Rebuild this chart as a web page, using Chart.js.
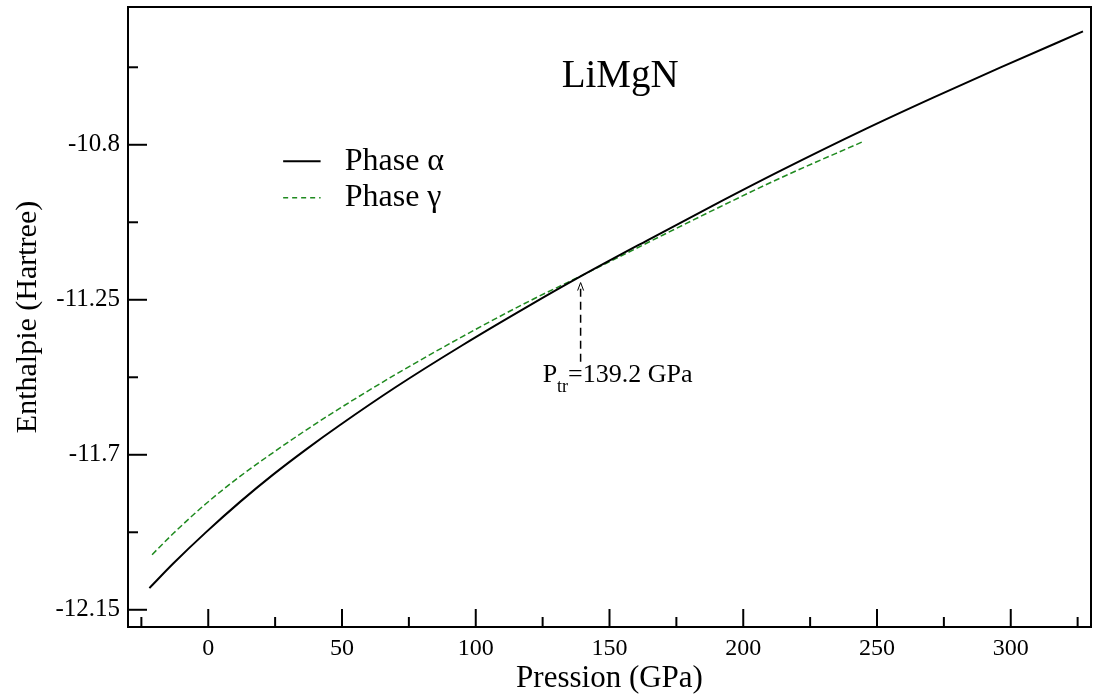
<!DOCTYPE html>
<html>
<head>
<meta charset="utf-8">
<script src="https://cdn.jsdelivr.net/npm/chart.js@4.4.0/dist/chart.umd.min.js"></script>
<style>
  html, body { margin: 0; padding: 0; background: #fff; }
</style>
</head>
<body>
<canvas id="myChart" width="1094" height="698"></canvas>
<script>
// Données (pression en GPa, enthalpie en Hartree)
const pressionAlpha = [-22, -13, -1, 12, 24, 37, 49, 70, 95, 120, 139, 164, 189, 214, 246, 271, 296, 327];
const enthalpieAlpha = [-12.087, -12.015, -11.926, -11.836, -11.759, -11.682, -11.615, -11.504, -11.382, -11.267, -11.183, -11.078, -10.975, -10.875, -10.753, -10.663, -10.576, -10.471];

const pressionGamma = [-21, -13, -1, 12, 24, 37, 49, 70, 95, 120, 139, 170, 189, 214, 245];
const enthalpieGamma = [-11.990, -11.928, -11.843, -11.762, -11.695, -11.626, -11.566, -11.467, -11.357, -11.254, -11.182, -11.062, -10.989, -10.896, -10.790];

// Graduations
const xTicks = [0, 50, 100, 150, 200, 250, 300];
const xMinorTicks = [-25, 25, 75, 125, 175, 225, 275, 325];
const yTicks = [-12.15, -11.7, -11.25, -10.8];
const yTickLabels = ['-12.15', '-11.7', '-11.25', '-10.8'];
const yMinorTicks = [-11.925, -11.475, -11.025, -10.575];

const pTransition = 139.2;
const serif = "'Liberation Serif', 'Times New Roman', serif";

const ctx = document.getElementById('myChart').getContext('2d');

// Cadre, graduations intérieures, titre, légende et annotation
const cadre = {
    id: 'cadre',
    afterDraw(chart) {
        const { ctx, chartArea: a, scales: { x, y } } = chart;
        ctx.save();
        ctx.strokeStyle = '#000';
        ctx.lineWidth = 2;
        ctx.strokeRect(a.left, a.top, a.right - a.left, a.bottom - a.top);

        // graduations vers l'intérieur
        const tickX = (vals, len) => vals.forEach(v => {
            const px = x.getPixelForValue(v);
            ctx.beginPath(); ctx.moveTo(px, a.bottom); ctx.lineTo(px, a.bottom - len); ctx.stroke();
        });
        const tickY = (vals, len) => vals.forEach(v => {
            const py = y.getPixelForValue(v);
            ctx.beginPath(); ctx.moveTo(a.left, py); ctx.lineTo(a.left + len, py); ctx.stroke();
        });
        tickX(xTicks, 18); tickX(xMinorTicks, 10);
        tickY(yTicks, 19); tickY(yMinorTicks, 10);

        // titre
        ctx.fillStyle = '#000';
        ctx.font = '39px ' + serif;
        ctx.textAlign = 'center';
        ctx.textBaseline = 'middle';
        ctx.fillText('LiMgN', x.getPixelForValue(154), y.getPixelForValue(-10.602));

        // légende
        ctx.textAlign = 'left';
        ctx.font = '32px ' + serif;
        const lx0 = x.getPixelForValue(28), lx1 = x.getPixelForValue(42), tx = x.getPixelForValue(51);
        const ly1 = y.getPixelForValue(-10.848), ly2 = y.getPixelForValue(-10.954);
        ctx.lineWidth = 2;
        ctx.strokeStyle = '#000';
        ctx.beginPath(); ctx.moveTo(lx0, ly1); ctx.lineTo(lx1, ly1); ctx.stroke();
        ctx.fillText('Phase α', tx, ly1);
        ctx.strokeStyle = '#1f8a1f';
        ctx.lineWidth = 1.5;
        ctx.setLineDash([5, 4]);
        ctx.beginPath(); ctx.moveTo(lx0, ly2); ctx.lineTo(lx1, ly2); ctx.stroke();
        ctx.setLineDash([]);
        ctx.fillText('Phase γ', tx, ly2);

        // flèche de transition
        const ax = x.getPixelForValue(pTransition);
        const aTop = y.getPixelForValue(-11.2), aBot = y.getPixelForValue(-11.43);
        ctx.strokeStyle = '#000';
        ctx.lineWidth = 1.5;
        ctx.setLineDash([8, 5]);
        ctx.beginPath(); ctx.moveTo(ax, aBot); ctx.lineTo(ax, aTop + 2); ctx.stroke();
        ctx.setLineDash([]);
        ctx.lineWidth = 1;
        ctx.beginPath(); ctx.moveTo(ax - 3, aTop + 8); ctx.lineTo(ax, aTop); ctx.lineTo(ax + 3, aTop + 8); ctx.stroke();

        // texte P_tr
        ctx.textBaseline = 'alphabetic';
        let px = x.getPixelForValue(125);
        const base = y.getPixelForValue(-11.49);
        ctx.font = '26px ' + serif;
        ctx.fillText('P', px, base);
        px += ctx.measureText('P').width;
        ctx.font = '18px ' + serif;
        ctx.fillText('tr', px, base + 10);
        px += ctx.measureText('tr').width;
        ctx.font = '26px ' + serif;
        ctx.fillText('=139.2 GPa', px, base);
        ctx.restore();
    }
};

new Chart(ctx, {
    type: 'line',
    data: {
        datasets: [{
            label: 'Phase α',
            data: pressionAlpha.map((p, i) => ({ x: p, y: enthalpieAlpha[i] })),
            borderColor: '#000',
            borderWidth: 2,
            pointRadius: 0,
            cubicInterpolationMode: 'monotone',
            fill: false
        }, {
            label: 'Phase γ',
            data: pressionGamma.map((p, i) => ({ x: p, y: enthalpieGamma[i] })),
            borderColor: '#1f8a1f',
            borderWidth: 1.5,
            borderDash: [6, 3],
            pointRadius: 0,
            cubicInterpolationMode: 'monotone',
            fill: false
        }]
    },
    options: {
        responsive: false,
        animation: false,
        layout: { padding: { top: 7, right: 3, bottom: 0, left: 0 } },
        plugins: {
            legend: { display: false },
            tooltip: { enabled: false },
            title: { display: false }
        },
        scales: {
            x: {
                type: 'linear',
                min: -30,
                max: 330,
                grid: { display: false, drawTicks: false },
                border: { display: false },
                afterBuildTicks: s => { s.ticks = xTicks.map(v => ({ value: v })); },
                afterFit: s => { s.height = 71; s.paddingLeft = 0; s.paddingRight = 0; },
                ticks: {
                    color: '#000',
                    padding: 7,
                    maxRotation: 0,
                    autoSkip: false,
                    font: { family: serif, size: 24 },
                    callback: v => String(v)
                },
                title: {
                    display: true,
                    text: 'Pression (GPa)',
                    color: '#000',
                    font: { family: serif, size: 31 },
                    padding: { top: 0, bottom: 1 }
                }
            },
            y: {
                type: 'linear',
                min: -12.2,
                max: -10.4,
                grid: { display: false, drawTicks: false },
                border: { display: false },
                afterBuildTicks: s => { s.ticks = yTicks.map(v => ({ value: v })); },
                afterFit: s => { s.width = 128; s.paddingTop = 0; s.paddingBottom = 0; },
                ticks: {
                    color: '#000',
                    padding: 8,
                    autoSkip: false,
                    font: { family: serif, size: 25 },
                    callback: (v, i) => yTickLabels[i]
                },
                title: {
                    display: true,
                    text: 'Enthalpie (Hartree)',
                    color: '#000',
                    font: { family: serif, size: 30 },
                    padding: { top: 10, bottom: 0 }
                }
            }
        }
    },
    plugins: [cadre]
});
</script>
</body>
</html>
